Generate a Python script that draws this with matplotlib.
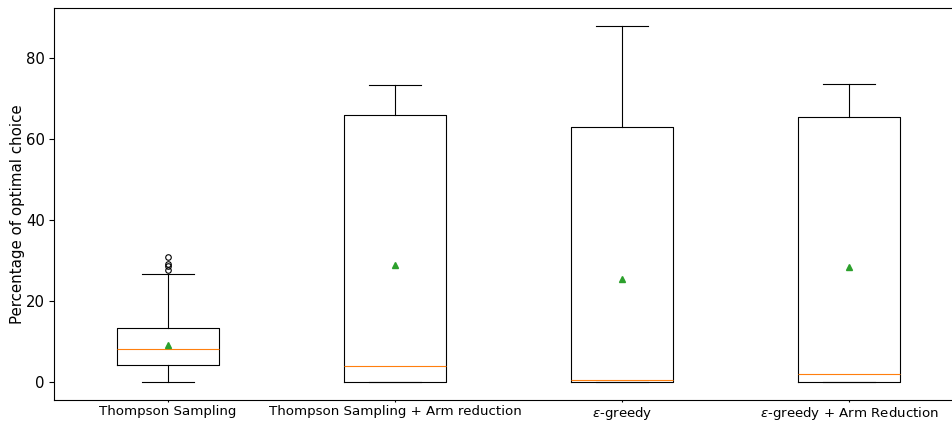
import matplotlib
matplotlib.use("Agg")
import matplotlib.pyplot as plt

# Values
labels = ["Thompson Sampling", "Thompson Sampling + Arm reduction",
          r"$\epsilon$-greedy", r"$\epsilon$-greedy + Arm Reduction"]
q1 = [4.2, 0.15, 0.1, 0.15]
med = [8.3, 4.0, 0.5, 2.0]
q3 = [13.4, 65.9, 62.9, 65.6]
whislo = [0.15, 0.0, 0.0, 0.0]
whishi = [26.7, 73.4, 88.0, 73.7]
means = [9.1, 28.9, 25.6, 28.5]
fliers = [[27.6, 28.6, 29.3, 31.0], [], [], []]

stats = []
for i in range(len(labels)):
    stats.append(dict(label=labels[i], q1=q1[i], med=med[i], q3=q3[i],
                      whislo=whislo[i], whishi=whishi[i], mean=means[i],
                      fliers=fliers[i]))

fig = plt.figure(figsize=(9.53, 4.21), dpi=100)
ax = fig.add_axes([54.5 / 953, 21 / 421, 908 / 953, 392 / 421])

lw = 0.8
ax.bxp(stats, showmeans=True, widths=0.45,
       boxprops=dict(linewidth=lw, color="black"),
       whiskerprops=dict(linewidth=lw, color="black"),
       capprops=dict(linewidth=lw, color="black"),
       medianprops=dict(linewidth=lw, color="#ff7f0e"),
       meanprops=dict(marker="^", markerfacecolor="#2ca02c",
                      markeredgecolor="#2ca02c", markersize=4.5),
       flierprops=dict(marker="o", markerfacecolor="none",
                       markeredgecolor="black", markersize=4,
                       markeredgewidth=0.8))

ax.set_ylabel("Percentage of optimal choice", fontsize=10.8)
ax.yaxis.set_label_coords(-0.0325, 0.473)
ax.tick_params(axis="y", labelsize=10.7)
ax.tick_params(axis="x", labelsize=9.6, length=1.5, pad=2)
for s in ax.spines.values():
    s.set_linewidth(0.8)

fig.savefig("out.png", dpi=100)
